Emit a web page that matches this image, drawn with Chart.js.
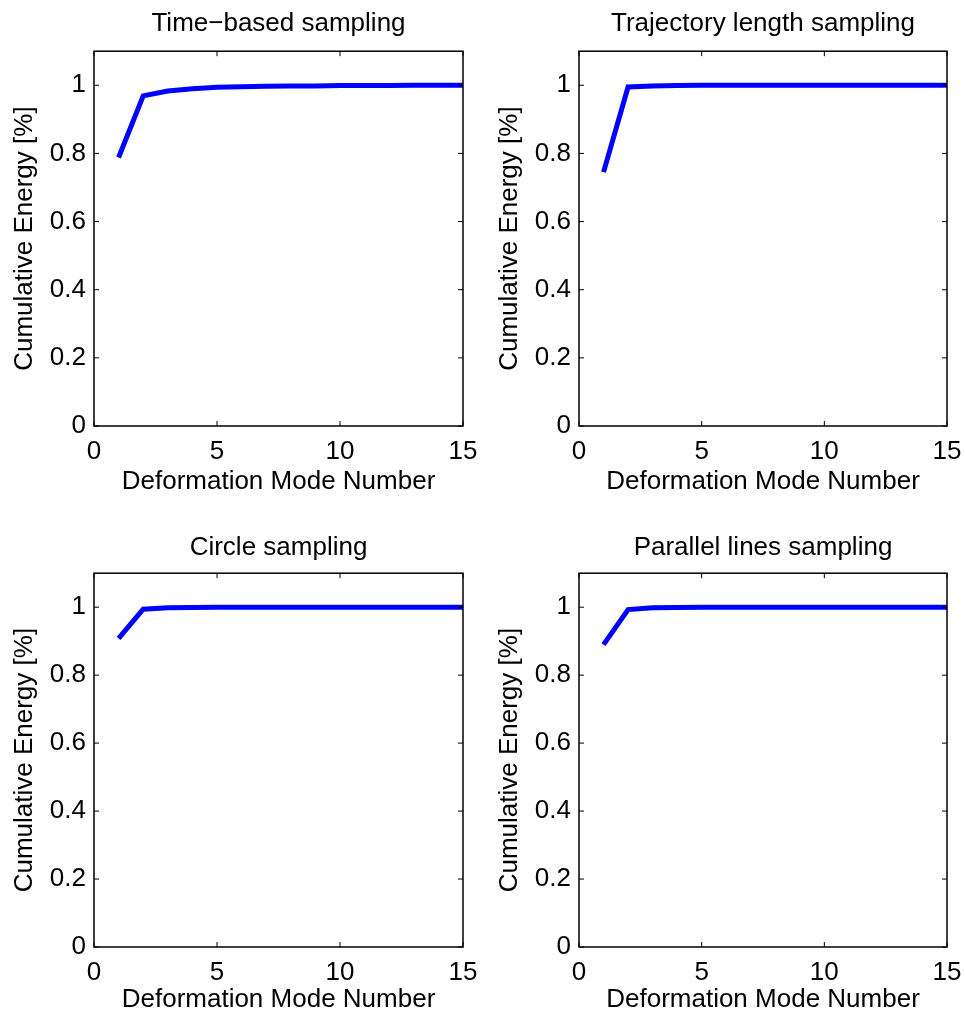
<!DOCTYPE html>
<html>
<head>
<meta charset="utf-8">
<script src="https://cdn.jsdelivr.net/npm/chart.js@4.4.0/dist/chart.umd.min.js"></script>
<style>
  html, body { margin: 0; padding: 0; background: #fff; }
  #wrap { position: relative; width: 965px; height: 1017px; }
  #wrap canvas { position: absolute; }
</style>
</head>
<body>
<div id="wrap">
  <canvas id="c0" width="482" height="510" style="left:0;top:0"></canvas>
  <canvas id="c1" width="483" height="510" style="left:482px;top:0"></canvas>
  <canvas id="c2" width="482" height="507" style="left:0;top:510px"></canvas>
  <canvas id="c3" width="483" height="507" style="left:482px;top:510px"></canvas>
</div>
<script>
/* Cumulative energy per deformation mode, one series per sampling method */
const modes = [1, 2, 3, 4, 5, 6, 7, 8, 9, 10, 11, 12, 13, 14, 15];
const timeBased = [0.788, 0.969, 0.983, 0.990, 0.994, 0.996, 0.997, 0.998, 0.998, 0.999, 0.999, 0.999, 1.0, 1.0, 1.0];
const trajectoryLength = [0.745, 0.995, 0.998, 0.999, 1.0, 1.0, 1.0, 1.0, 1.0, 1.0, 1.0, 1.0, 1.0, 1.0, 1.0];
const circle = [0.908, 0.994, 0.998, 0.999, 1.0, 1.0, 1.0, 1.0, 1.0, 1.0, 1.0, 1.0, 1.0, 1.0, 1.0];
const parallelLines = [0.890, 0.993, 0.998, 0.999, 1.0, 1.0, 1.0, 1.0, 1.0, 1.0, 1.0, 1.0, 1.0, 1.0, 1.0];

const titles = ["Time\u2212based sampling", "Trajectory length sampling", "Circle sampling", "Parallel lines sampling"];
const xTicks = [0, 5, 10, 15];
const yTicks = [0, 0.2, 0.4, 0.6, 0.8, 1];
const xLabel = "Deformation Mode Number";
const yLabel = "Cumulative Energy [%]";

const FONT = "'Liberation Sans', Arial, Helvetica, sans-serif";
const FSIZE = 26;
const TICK = 5;

/* layout of each subplot inside its canvas */
const panels = [
  { id: "c0", values: timeBased,        yW: 94, xH: 84, right: 19, tPad: { top: 8, bottom: 12 },  yPad: 9,  xPad: 13 },
  { id: "c1", values: trajectoryLength, yW: 97, xH: 84, right: 18, tPad: { top: 8, bottom: 12 },  yPad: 12, xPad: 13 },
  { id: "c2", values: circle,           yW: 94, xH: 70, right: 19, tPad: { top: 22, bottom: 10 }, yPad: 9,  xPad: 2 },
  { id: "c3", values: parallelLines,    yW: 97, xH: 70, right: 18, tPad: { top: 22, bottom: 10 }, yPad: 12, xPad: 2 }
];

/* MATLAB style box with inward ticks on all four sides */
const boxTicks = {
  id: "boxTicks",
  afterDraw(chart) {
    const { ctx, chartArea: a, scales: { x, y } } = chart;
    ctx.save();
    ctx.strokeStyle = "#000";
    ctx.lineWidth = 1.5;
    ctx.strokeRect(a.left, a.top, a.right - a.left, a.bottom - a.top);
    ctx.lineWidth = 1;
    ctx.beginPath();
    x.ticks.forEach(t => {
      const px = x.getPixelForValue(t.value);
      ctx.moveTo(px, a.bottom); ctx.lineTo(px, a.bottom - TICK);
      ctx.moveTo(px, a.top); ctx.lineTo(px, a.top + TICK);
    });
    y.ticks.forEach(t => {
      const py = y.getPixelForValue(t.value);
      ctx.moveTo(a.left, py); ctx.lineTo(a.left + TICK, py);
      ctx.moveTo(a.right, py); ctx.lineTo(a.right - TICK, py);
    });
    ctx.stroke();
    ctx.restore();
  }
};

function drawPanel(p, title) {
  const ctx = document.getElementById(p.id).getContext("2d");
  return new Chart(ctx, {
    type: "line",
    data: {
      datasets: [{
        data: modes.map((m, i) => ({ x: m, y: p.values[i] })),
        borderColor: "#0000ff",
        borderWidth: 5,
        pointRadius: 0,
        tension: 0,
        fill: false
      }]
    },
    options: {
      responsive: false,
      animation: false,
      layout: { padding: { right: p.right } },
      plugins: {
        legend: { display: false },
        tooltip: { enabled: false },
        title: {
          display: true,
          text: title,
          fullSize: false,
          color: "#000",
          font: { family: FONT, size: FSIZE, weight: "normal" },
          padding: p.tPad
        }
      },
      scales: {
        x: {
          type: "linear",
          min: 0,
          max: 15,
          grid: { display: false, drawTicks: false },
          border: { display: false },
          afterBuildTicks: s => { s.ticks = xTicks.map(v => ({ value: v })); },
          // fixed height, and no extra room for the end labels
          afterFit: s => { s.height = p.xH; s.paddingLeft = 0; s.paddingRight = 0; },
          ticks: { color: "#000", padding: 10, autoSkip: false, maxRotation: 0, font: { family: FONT, size: FSIZE } },
          title: { display: true, text: xLabel, color: "#000", padding: { top: 0, bottom: p.xPad }, font: { family: FONT, size: FSIZE } }
        },
        y: {
          min: 0,
          max: 1.1,
          grid: { display: false, drawTicks: false },
          border: { display: false },
          afterBuildTicks: s => { s.ticks = yTicks.map(v => ({ value: v })); },
          afterFit: s => { s.width = p.yW; s.paddingTop = 0; s.paddingBottom = 0; },
          ticks: { color: "#000", padding: 8, autoSkip: false, callback: v => String(v), font: { family: FONT, size: FSIZE } },
          title: { display: true, text: yLabel, color: "#000", padding: { top: p.yPad, bottom: 0 }, font: { family: FONT, size: FSIZE } }
        }
      }
    },
    plugins: [boxTicks]
  });
}

panels.forEach((p, i) => drawPanel(p, titles[i]));
</script>
</body>
</html>
